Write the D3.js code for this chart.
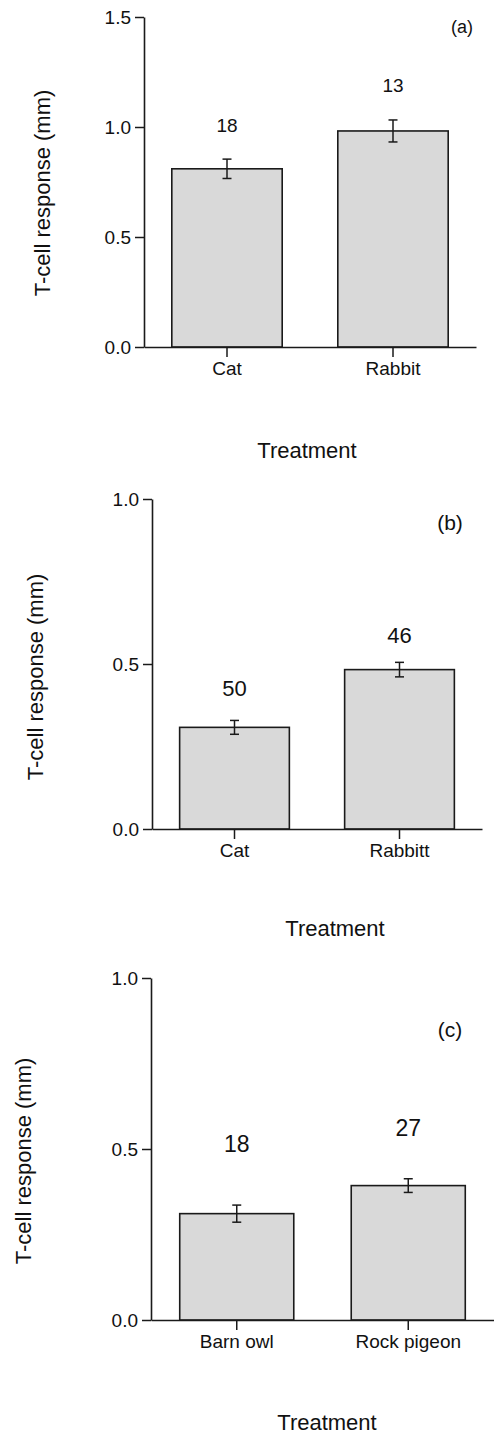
<!DOCTYPE html>
<html lang="en">
<head>
<meta charset="UTF-8">
<title>T-cell response by treatment</title>
<script src="https://d3js.org/d3.v7.min.js"></script>
<style>
  body { margin: 0; background: #fff; }
  text { font-family: "Liberation Sans", Arial, Helvetica, sans-serif; fill: #111; }
</style>
</head>
<body>
<svg width="494" height="1437"></svg>
<script>
// panel (a)
var catsA = ["Cat", "Rabbit"];
var meansA = [0.81, 0.982];
var errA = [0.044, 0.05];
var nA = ["18", "13"];
var ticksA = [0, 0.5, 1.0, 1.5];

// panel (b)
var catsB = ["Cat", "Rabbitt"];
var meansB = [0.308, 0.483];
var errB = [0.021, 0.022];
var nB = ["50", "46"];
var ticksB = [0, 0.5, 1.0];

// panel (c)
var catsC = ["Barn owl", "Rock pigeon"];
var meansC = [0.311, 0.393];
var errC = [0.025, 0.02];
var nC = ["18", "27"];
var ticksC = [0, 0.5, 1.0];

var svg = d3.select("svg");
var ink = "#1a1a1a";

// layout per panel (pixels)
var panels = [
  { cats: catsA, means: meansA, err: errA, n: nA, ticks: ticksA, tag: "(a)",
    x0: 144, x1: 476, y0: 347, y1: 17, gap: [27, 28], nSize: 19,
    tagX: 462, tagY: 33, tagSize: 18, ylabX: 42, ylabY: 193, titleX: 307, titleY: 458 },
  { cats: catsB, means: meansB, err: errB, n: nB, ticks: ticksB, tag: "(b)",
    x0: 152, x1: 482, y0: 829, y1: 499, gap: [24, 19], nSize: 22,
    tagX: 450, tagY: 530, tagSize: 21, ylabX: 35, ylabY: 677, titleX: 335, titleY: 936 },
  { cats: catsC, means: meansC, err: errC, n: nC, ticks: ticksC, tag: "(c)",
    x0: 151, x1: 494, y0: 1320, y1: 978, gap: [53, 43], nSize: 23,
    tagX: 450, tagY: 1037, tagSize: 21, ylabX: 23, ylabY: 1161, titleX: 327, titleY: 1430 }
];

panels.forEach(function(p) {
  var g = svg.append("g");
  var ymax = d3.max(p.ticks);

  var x = d3.scaleBand().domain(p.cats).range([p.x0, p.x1])
      .paddingInner(0.335).paddingOuter(0.1675);
  var y = d3.scaleLinear().domain([0, ymax]).range([p.y0, p.y1]);

  var rows = p.cats.map(function(c, i) {
    return { cat: c, mean: p.means[i], err: p.err[i], n: p.n[i], gap: p.gap[i] };
  });

  // bars
  g.selectAll("rect.bar").data(rows).enter().append("rect")
    .attr("class", "bar")
    .attr("x", d => x(d.cat))
    .attr("width", x.bandwidth())
    .attr("y", d => y(d.mean))
    .attr("height", d => y(0) - y(d.mean))
    .attr("fill", "#d9d9d9")
    .attr("stroke", ink)
    .attr("stroke-width", 1.6);

  // error bars
  var eb = g.selectAll("g.eb").data(rows).enter().append("g")
    .attr("transform", d => `translate(${x(d.cat) + x.bandwidth() / 2},0)`);
  eb.append("line")
    .attr("y1", d => y(d.mean - d.err)).attr("y2", d => y(d.mean + d.err))
    .attr("stroke", ink).attr("stroke-width", 1.5);
  eb.append("line")
    .attr("x1", -4.5).attr("x2", 4.5)
    .attr("y1", d => y(d.mean + d.err)).attr("y2", d => y(d.mean + d.err))
    .attr("stroke", ink).attr("stroke-width", 1.5);
  eb.append("line")
    .attr("x1", -4.5).attr("x2", 4.5)
    .attr("y1", d => y(d.mean - d.err)).attr("y2", d => y(d.mean - d.err))
    .attr("stroke", ink).attr("stroke-width", 1.5);

  // sample sizes
  g.selectAll("text.n").data(rows).enter().append("text")
    .attr("x", d => x(d.cat) + x.bandwidth() / 2)
    .attr("y", d => y(d.mean + d.err) - d.gap)
    .attr("text-anchor", "middle")
    .attr("font-size", p.nSize + "px")
    .text(d => d.n);

  // axes
  var yAxis = g.append("g")
    .attr("transform", `translate(${p.x0},0)`)
    .call(d3.axisLeft(y).tickValues(p.ticks).tickFormat(d3.format(".1f"))
      .tickSize(9).tickSizeOuter(0).tickPadding(4));
  var xAxis = g.append("g")
    .attr("transform", `translate(0,${p.y0})`)
    .call(d3.axisBottom(x).tickSize(10).tickSizeOuter(0).tickPadding(5));

  [yAxis, xAxis].forEach(function(a) {
    a.select(".domain").attr("stroke", ink).attr("stroke-width", 1.6);
    a.selectAll(".tick line").attr("stroke", ink).attr("stroke-width", 1.5);
    a.selectAll(".tick text").attr("font-size", "19px")
      .attr("font-family", '"Liberation Sans", Arial, sans-serif').attr("fill", "#111");
  });

  // panel tag
  g.append("text")
    .attr("x", p.tagX).attr("y", p.tagY)
    .attr("text-anchor", "middle")
    .attr("font-size", p.tagSize + "px")
    .text(p.tag);

  // axis titles
  g.append("text")
    .attr("x", p.titleX).attr("y", p.titleY)
    .attr("text-anchor", "middle")
    .attr("font-size", "22px")
    .text("Treatment");

  g.append("text")
    .attr("transform", `translate(${p.ylabX},${p.ylabY}) rotate(-90)`)
    .attr("text-anchor", "middle")
    .attr("dominant-baseline", "central")
    .attr("font-size", "22px")
    .text("T-cell response (mm)");
});
</script>
</body>
</html>
